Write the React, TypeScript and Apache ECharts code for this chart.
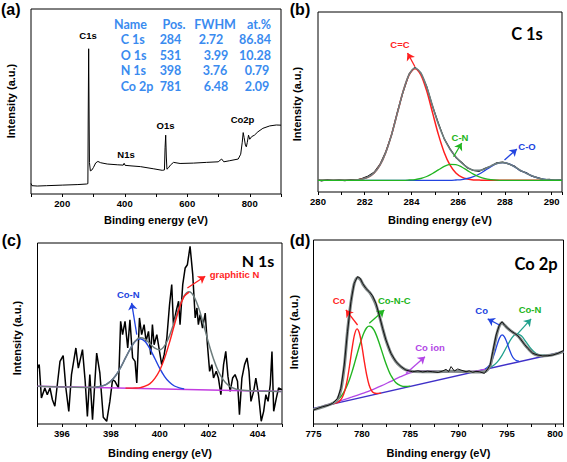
import React, { useEffect, useRef } from "react";
import * as echarts from "echarts";

// ---------- (a) survey ----------
const surveyE = [100, 103, 120, 150, 200, 250, 278, 282, 283, 284.5, 286, 287, 290, 295, 300, 307, 314, 323, 344, 376, 395, 398, 401, 420, 450, 493, 520, 527, 529, 531, 533, 535, 540, 546, 556, 577, 620, 662, 699, 710, 717, 736, 763, 771, 776, 779, 782, 786, 789, 792, 796, 800, 806, 815, 826, 842, 864, 885, 900];
const surveyI = [5.7, 4.5, 4.3, 4.5, 4.8, 5.1, 5.4, 5.6, 40, 78.5, 40, 17, 12.5, 13, 14.4, 16.8, 17.6, 16.9, 16.2, 15.8, 15.6, 16.6, 15.5, 15.2, 14.8, 13.6, 12.8, 13, 25, 31.8, 20, 13.4, 14.2, 15.6, 17.1, 16.5, 16.7, 17.1, 17.4, 18.9, 17.4, 18.0, 18.9, 21.5, 28, 33.2, 30.5, 26.5, 25.5, 27.8, 31.8, 29.6, 31, 31.8, 33.6, 35.5, 36.8, 37.3, 37.2];
const tableHead = ["Name", "Pos.", "FWHM", "at.%"];
const tableNames = ["C 1s", "O 1s", "N 1s", "Co 2p"];
const tablePos = ["284", "531", "398", "781"];
const tableFwhm = ["2.72", "3.99", "3.76", "6.48"];
const tableAt = ["86.84", "10.28", "0.79", "2.09"];

// ---------- (b) C 1s ----------
const bE = [280, 280.15, 280.4, 280.65, 280.9, 281.15, 281.4, 281.65, 281.9, 282.15, 282.4, 282.65, 282.9, 283.15, 283.4, 283.65, 283.9, 284.15, 284.4, 284.65, 284.9, 285.15, 285.4, 285.65, 285.9, 286.15, 286.4, 286.65, 286.9, 287.15, 287.4, 287.65, 287.9, 288.15, 288.4, 288.65, 288.9, 289.15, 289.4, 289.65, 289.9, 290.15, 290.4, 290.44];
const bData = [6.8, 6.2, 6.9, 6.4, 6.7, 6.3, 6.9, 6.6, 7.6, 8.9, 10.9, 15.3, 22.4, 31.8, 44.6, 56.0, 65.6, 69.2, 66.0, 58.6, 47.6, 38.2, 29.5, 24.0, 19.2, 16.4, 13.3, 12.0, 11.5, 13.2, 14.3, 16.2, 16.6, 15.6, 14.4, 11.8, 10.8, 8.8, 8.0, 6.9, 7.0, 6.4, 6.8, 6.5];
const bFit = [6.5, 6.5, 6.5, 6.5, 6.5, 6.5, 6.5, 6.7, 7.2, 8.3, 10.6, 14.9, 22.0, 32.0, 44.1, 56.2, 65.3, 68.9, 66.1, 58.3, 47.9, 37.8, 29.7, 23.7, 19.5, 16.1, 13.6, 12.1, 12.0, 12.9, 14.5, 15.9, 16.3, 15.7, 14.1, 12.1, 10.5, 9.0, 7.8, 7.1, 6.7, 6.6, 6.6, 6.6];
const bCC = [6.5, 6.5, 6.5, 6.5, 6.5, 6.5, 6.5, 6.7, 7.2, 8.3, 10.6, 14.9, 22.0, 32.0, 44.1, 56.2, 65.1, 68.5, 65.1, 56.2, 44.1, 32.0, 22.0, 14.9, 10.6, 8.3, 7.2, 6.7, 6.6, 6.5, 6.5, 6.5, 6.5, 6.5, 6.5, 6.5, 6.5, 6.5, 6.5, 6.5, 6.5, 6.5, 6.5, 6.5];
const bCN = [6.5, 6.5, 6.5, 6.5, 6.5, 6.5, 6.5, 6.5, 6.5, 6.5, 6.5, 6.5, 6.5, 6.5, 6.5, 6.5, 6.66, 6.9, 7.5, 8.6, 10.3, 12.3, 14.2, 15.3, 15.2, 13.9, 11.9, 9.9, 8.4, 7.4, 6.9, 6.6, 6.5, 6.5, 6.5, 6.5, 6.5, 6.5, 6.5, 6.5, 6.5, 6.5, 6.5, 6.5];
const bCO = [6.5, 6.5, 6.5, 6.5, 6.5, 6.5, 6.5, 6.5, 6.5, 6.5, 6.5, 6.5, 6.5, 6.5, 6.5, 6.5, 6.5, 6.5, 6.5, 6.5, 6.5, 6.5, 6.5, 6.5, 6.67, 6.9, 7.5, 8.5, 10.0, 12.0, 14.1, 15.7, 16.3, 15.7, 14.1, 12.0, 10.5, 9.0, 7.8, 7.1, 6.7, 6.6, 6.6, 6.6];

// ---------- (c) N 1s ----------
const cE = [395.00, 395.07, 395.16, 395.30, 395.40, 395.51, 395.61, 395.71, 395.81, 395.92, 396.05, 396.16, 396.28, 396.39, 396.57, 396.67, 396.84, 396.95, 397.04, 397.14, 397.25, 397.42, 397.55, 397.69, 397.83, 397.96, 398.07, 398.17, 398.31, 398.40, 398.48, 398.58, 398.69, 398.78, 398.89, 398.99, 399.06, 399.17, 399.26, 399.36, 399.44, 399.54, 399.63, 399.70, 399.77, 399.88, 399.99, 400.08, 400.18, 400.29, 400.40, 400.49, 400.56, 400.67, 400.77, 400.83, 400.94, 401.04, 401.13, 401.24, 401.35, 401.45, 401.52, 401.58, 401.65, 401.75, 401.86, 401.95, 402.04, 402.13, 402.20, 402.31, 402.40, 402.50, 402.61, 402.70, 402.79, 402.88, 402.98, 403.08, 403.18, 403.26, 403.36, 403.47, 403.57, 403.65, 403.73, 403.84, 403.93, 404.04, 404.15, 404.25, 404.34, 404.43, 404.52, 404.59, 404.66, 404.77, 404.86, 405.00];
const cData = [30.9, 32.8, 14.4, 19.9, 16.2, 19.9, 13.4, 9.8, 21.7, 34.6, 37.8, 19.9, 7.0, 27.3, 42.0, 30.9, 41.1, 23.6, 4.2, 27.3, 2.4, 39.2, 28.2, 3.7, 1.5, 12.5, 24.5, 23.6, 19.9, 56.7, 49.4, 56.7, 42.0, 57.6, 36.5, 34.6, 22.7, 58.6, 49.4, 54.9, 45.7, 51.2, 38.3, 54.9, 43.8, 49.4, 40.1, 32.8, 38.3, 47.5, 65.9, 77.0, 54.9, 62.2, 67.8, 54.9, 77.0, 86.2, 88.0, 98.2, 82.5, 58.6, 64.1, 54.9, 60.4, 53.0, 61.3, 43.8, 29.1, 32.8, 25.4, 29.1, 25.4, 16.2, 32.8, 40.1, 26.3, 18.0, 25.4, 27.3, 23.6, 5.2, 25.4, 32.8, 36.5, 29.1, 12.5, 18.0, 25.4, 16.2, 1.5, 7.0, 16.2, 12.5, 21.7, 40.1, 7.0, 14.4, 19.9, 19.0];
const cFitE = [395, 396, 397, 397.4, 397.6, 397.8, 398, 398.2, 398.4, 398.6, 398.8, 399, 399.2, 399.4, 399.6, 399.8, 400, 400.2, 400.4, 400.6, 400.8, 401, 401.2, 401.4, 401.6, 401.8, 402, 402.2, 402.4, 402.6, 402.8, 403, 403.2, 403.4, 404, 405];
const cFit = [20.8, 20.5, 20.2, 20.4, 20.9, 21.8, 23.7, 26.8, 31.2, 36.5, 41.7, 45.9, 47.6, 46.9, 44.3, 41.9, 41.0, 43.3, 48.8, 56.6, 64.8, 70.8, 73.0, 70.4, 63.8, 54.5, 44.6, 35.9, 29.0, 24.4, 21.4, 19.9, 19.0, 18.7, 18.3, 18.0];
const cCoNE = [397.4, 397.6, 397.8, 398, 398.2, 398.4, 398.6, 398.8, 399, 399.2, 399.4, 399.6, 399.8, 400, 400.2, 400.4, 400.6, 400.8, 401];
const cCoN = [20.4, 20.9, 21.8, 23.7, 26.8, 31.2, 36.5, 41.7, 45.7, 47.1, 45.6, 41.5, 36.2, 30.7, 26.2, 23.0, 21.0, 20.0, 19.4];
const cGraphE = [398.6, 398.8, 399, 399.2, 399.4, 399.6, 399.8, 400, 400.2, 400.4, 400.6, 400.8, 401, 401.2];
const cGraph = [19.8, 19.8, 19.9, 20.1, 20.9, 22.3, 25.2, 29.7, 36.4, 45.1, 54.8, 64.0, 70.5, 72.9];
const cBaseE = [395, 405];
const cBase = [20.8, 18.0];

// ---------- (d) Co 2p ----------
const dE = [775.0, 775.5, 775.93, 776.5, 776.97, 777.49, 777.83, 778.18, 778.52, 778.87, 779.21, 779.56, 779.83, 780.08, 780.42, 780.77, 781.11, 781.46, 781.8, 782.15, 782.49, 783.01, 783.53, 784.05, 784.56, 785.25, 785.8, 786.29, 786.8, 787.33, 787.9, 788.36, 788.71, 788.98, 789.23, 789.57, 789.92, 790.26, 790.78, 791.1, 791.47, 791.8, 792.16, 792.68, 793.02, 793.27, 793.54, 793.89, 794.23, 794.51, 794.75, 795.1, 795.44, 795.79, 796.13, 796.48, 796.82, 797.17, 797.69, 798.2, 798.72, 799.24, 799.76, 800.28, 800.79];
const dData = [7.6, 8.6, 9.4, 10.1, 11.2, 13.9, 19.4, 32.1, 50.2, 66.5, 76.4, 80.1, 79.2, 76.4, 73.7, 71.9, 69.7, 65.6, 59.2, 52.0, 45.7, 38.4, 33.9, 31.2, 29.3, 28.4, 28.9, 28.3, 28.7, 28.4, 28.0, 28.8, 29.7, 28.4, 31.2, 28.8, 29.9, 29.3, 28.4, 28.9, 28.1, 28.6, 28.4, 27.5, 29.9, 32.1, 39.3, 48.4, 53.8, 55.6, 53.8, 52.0, 50.5, 49.3, 48.0, 45.7, 43.3, 41.1, 38.4, 37.5, 37.0, 37.1, 37.5, 38.4, 39.7];
const dFitE = [775, 776, 777, 777.5, 777.85, 778.2, 778.5, 778.87, 779.2, 779.55, 779.85, 780.1, 780.45, 780.8, 781.1, 781.45, 781.8, 782.15, 782.5, 783, 783.5, 784, 784.5, 785.25, 786.3, 787.3, 788.4, 789.2, 790.3, 791.5, 792.2, 792.7, 793, 793.3, 793.55, 793.9, 794.2, 794.5, 794.75, 795.1, 795.45, 795.8, 796.15, 796.5, 796.8, 797.2, 797.7, 798.2, 798.7, 799.25, 799.75, 800.3, 800.86];
const dFit = [7.8, 9.4, 11.3, 13.5, 19, 32, 49.5, 66, 76, 79.5, 78.5, 76, 73.5, 71.5, 69, 65, 59, 52, 45.5, 38.5, 34, 31.3, 29.6, 28.6, 28.4, 28.4, 28.5, 28.7, 28.6, 28.3, 28.3, 28.4, 29.5, 32, 38.5, 47.5, 53, 55, 53.8, 52, 50.5, 49.2, 47.8, 45.6, 43.4, 41, 38.5, 37.4, 37.0, 37.2, 37.6, 38.4, 39.5];
const dCoE = [777, 777.5, 777.75, 778, 778.25, 778.5, 778.75, 779, 779.25, 779.5, 779.75, 780, 780.25, 780.5, 780.75, 781, 781.25, 781.5, 782];
const dCo = [10.9, 11.8, 12.8, 14.7, 18.3, 24.3, 32.4, 41.4, 48.7, 51.7, 49.3, 42.6, 34.2, 26.7, 21.2, 18.2, 16.9, 16.6, 16.8];
const dCoNCE = [776.75, 777, 777.25, 777.5, 777.75, 778, 778.25, 778.5, 778.75, 779, 779.25, 779.5, 779.75, 780, 780.25, 780.5, 780.75, 781, 781.25, 781.5, 781.75, 782, 782.25, 782.5, 782.75, 783, 783.5, 784, 784.5, 785];
const dCoNC = [10.9, 11.5, 12.2, 13.2, 14.4, 16.1, 18.4, 21.2, 24.6, 28.6, 33.1, 37.8, 42.4, 46.6, 50.0, 52.3, 53.2, 52.8, 51.1, 48.3, 44.7, 40.7, 36.6, 32.7, 29.3, 26.5, 22.6, 20.9, 20.4, 20.6];
const dIonE = [776, 777, 778, 779, 780, 781, 782, 783, 784, 785, 786, 787, 788, 789, 790, 791, 792, 793];
const dIon = [9.8, 11.4, 13.0, 14.7, 16.5, 18.4, 20.7, 23.2, 25.7, 27.8, 28.8, 28.8, 28.6, 28.5, 28.5, 28.5, 29.0, 29.9];
const dCo2E = [792.75, 793, 793.25, 793.5, 793.75, 794, 794.25, 794.5, 794.75, 795, 795.25, 795.5, 795.75, 796, 796.25];
const dCo2 = [29.9, 30.8, 32.4, 35.0, 38.8, 43.2, 46.8, 48.4, 47.4, 44.4, 40.6, 37.4, 35.4, 34.4, 34.1];
const dCoNE = [793, 793.5, 794, 794.5, 795, 795.5, 796, 796.5, 797, 797.5, 798, 798.5, 799];
const dCoN = [30.2, 31.4, 33.6, 37.3, 42.1, 46.7, 49.0, 47.9, 44.5, 40.9, 38.4, 37.4, 37.4];
const dBaseE = [775, 800.86];
const dBase = [8.5, 39.3];

const zip = (xs: number[], ys: number[]) => xs.map((x, i) => [x, ys[i]]);

const RED = "#ff1f1f";
const GREEN = "#22b522";
const BLUE = "#2244e0";
const PURPLE = "#b347e6";
const GRAY = "#6d7d7d";
const TABLE = "#3a8bef";
const ARIAL = '"Liberation Sans", Arial, sans-serif';

function line(gi: number, data: number[][], color: string, width: number, smooth: boolean, z: number, extra: any = {}) {
  return {
    type: "line",
    xAxisIndex: gi,
    yAxisIndex: gi,
    data,
    showSymbol: false,
    symbol: "none",
    smooth: smooth ? 0.3 : false,
    lineStyle: { color, width },
    itemStyle: { color },
    z,
    silent: true,
    ...extra,
  };
}

function arrows(color: string, pairs: number[][][]) {
  return {
    markLine: {
      silent: true,
      symbol: ["none", "arrow"],
      symbolSize: 7,
      label: { show: false },
      lineStyle: { color, width: 1.3, type: "solid" },
      emphasis: { disabled: true },
      data: pairs.map((p) => [{ coord: p[0] }, { coord: p[1] }]),
    },
  };
}

function txt(text: string, x: number, y: number, font: string, fill: string, align = "center", rotation = 0) {
  return {
    type: "text",
    x,
    y,
    rotation,
    silent: true,
    style: { text, x: 0, y: 0, font, fill, align, verticalAlign: "middle", textAlign: align, textVerticalAlign: "middle" },
  };
}

export default function App() {
  const ref = useRef<HTMLDivElement>(null);
  useEffect(() => {
    document.body.style.margin = "0";
    const chart = echarts.init(ref.current!, null, { renderer: "svg" });

    const grids = [
      { left: 31, top: 9, width: 250, height: 185 },
      { left: 318, top: 12, width: 244, height: 180 },
      { left: 37.5, top: 243, width: 244.5, height: 181 },
      { left: 313.5, top: 240, width: 250, height: 184 },
    ].map((g) => ({ ...g, show: true, borderColor: "#000", borderWidth: 1, backgroundColor: "transparent" }));

    const xBase = (min: number, max: number, interval: number, fmt: (v: number) => string) => ({
      type: "value",
      min,
      max,
      interval,
      axisLine: { show: false },
      splitLine: { show: false },
      axisTick: { show: true, inside: false, length: 3, lineStyle: { color: "#000", width: 1 } },
      axisLabel: { show: true, margin: 4, color: "#000", fontSize: 9.5, fontWeight: "bold", fontFamily: ARIAL, formatter: fmt, showMinLabel: true, showMaxLabel: true },
    });

    const xAxis = [
      { ...xBase(100, 900, 100, (v) => (v % 200 === 0 && v > 100 && v < 900 ? String(v) : "")), gridIndex: 0 },
      { ...xBase(280, 290.44, 1, (v) => (Number.isInteger(v) && v % 2 === 0 ? String(v) : "")), gridIndex: 1 },
      { ...xBase(395, 405, 1, (v) => (Number.isInteger(v) && v % 2 === 0 && v > 395 && v < 405 ? String(v) : "")), gridIndex: 2 },
      { ...xBase(775, 800.86, 2.5, (v) => (v % 5 === 0 ? String(v) : "")), gridIndex: 3 },
    ];
    const yAxis = [0, 1, 2, 3].map((i) => ({ type: "value", gridIndex: i, min: 0, max: 100, show: false }));

    const series: any[] = [
      // (a)
      line(0, zip(surveyE, surveyI), "#000", 1, false, 2),
      // (b)
      line(1, zip(bE, bData), "#111", 1.2, false, 2),
      line(1, zip(bE, bCC), RED, 1.5, true, 3, arrows(RED, [[[284.15, 69.6], [283.83, 77.2]]])),
      line(1, zip(bE, bCO), BLUE, 1.3, true, 3, arrows(BLUE, [[[287.98, 17.8], [288.51, 23.9]]])),
      line(1, zip(bE, bFit), GRAY, 1.6, true, 4),
      line(1, zip(bE, bCN), GREEN, 1.3, true, 5, arrows(GREEN, [[[285.8, 19.6], [286.15, 27.2]]])),
      // (c)
      line(2, zip(cE, cData), "#000", 1.5, false, 2),
      line(2, zip(cBaseE, cBase), "#c23be0", 1.5, false, 3),
      line(2, zip(cCoNE, cCoN), BLUE, 1.4, true, 3, arrows(BLUE, [[[399.06, 49.4], [398.85, 66.9]]])),
      line(2, zip(cFitE, cFit), GRAY, 1.5, true, 4),
      line(2, zip(cGraphE, cGraph), RED, 1.4, true, 5, arrows(RED, [[[401.13, 75.1], [401.86, 81.6]]])),
      // (d)
      line(3, zip(dBaseE, dBase), "#3f30c8", 1.5, false, 2),
      line(3, zip(dIonE, dIon), PURPLE, 1.3, true, 3, arrows(PURPLE, [[[784.56, 27.5], [786.53, 36.6]]])),
      line(3, zip(dCoNCE, dCoNC), GREEN, 1.4, true, 3, arrows(GREEN, [[[780.77, 54.7], [782.32, 62.0]]])),
      line(3, zip(dCoE, dCo), RED, 1.4, true, 3, arrows(RED, [[[779.56, 53.8], [778.35, 62.0]]])),
      line(3, zip(dCoNE, dCoN), "#1fa08c", 1.3, true, 3, arrows("#1fa08c", [[[796.06, 48.7], [797.51, 57.1]]])),
      line(3, zip(dCo2E, dCo2), BLUE, 1.3, true, 3, arrows(BLUE, [[[794.23, 53.8], [793.02, 57.1]]])),
      line(3, zip(dFitE, dFit), "#808888", 3, true, 4),
      line(3, zip(dE, dData), "#111", 1, false, 5),
    ];

    const bold = (s: number) => `bold ${s}px ${ARIAL}`;
    const lato = (s: number) => `bold ${s}px Lato, "Open Sans", sans-serif`;
    const rowsY = [39.3, 55, 70.5, 86];
    const fwhmX = [211, 216, 215, 216];
    const atX = [255, 255, 257, 257];

    const graphics: any[] = [
      txt("(a)", 10.8, 9.5, bold(16), "#000"),
      txt("(b)", 300, 9.5, bold(16), "#000"),
      txt("(c)", 11.5, 240.5, bold(16), "#000"),
      txt("(d)", 300, 240.5, bold(16), "#000"),
      txt("Binding energy (eV)", 156, 220, bold(11), "#000"),
      txt("Binding energy (eV)", 440, 220, bold(11), "#000"),
      txt("Binding energy (eV)", 160, 453, bold(11), "#000"),
      txt("Binding energy (eV)", 438.5, 453, bold(11), "#000"),
      txt("Intensity (a.u.)", 10.8, 101, bold(11), "#000", "center", Math.PI / 2),
      txt("Intensity (a.u.)", 297, 104, bold(11), "#000", "center", Math.PI / 2),
      txt("Intensity (a.u.)", 16.5, 338, bold(11), "#000", "center", Math.PI / 2),
      txt("Intensity (a.u.)", 293.5, 332, bold(11), "#000", "center", Math.PI / 2),
      // survey peak labels
      txt("C1s", 88, 35, bold(9.5), "#000"),
      txt("N1s", 126, 154.5, bold(9.5), "#000"),
      txt("O1s", 165.5, 125.5, bold(9.5), "#000"),
      txt("Co2p", 242.5, 119.5, bold(9.5), "#000"),
      // table
      txt(tableHead[0], 130.5, 24, lato(12.5), TABLE),
      txt(tableHead[1], 174, 24, lato(12.5), TABLE),
      txt(tableHead[2], 215, 24, lato(12.5), TABLE),
      txt(tableHead[3], 259, 24, lato(12.5), TABLE),
      ...tableNames.map((t, i) => txt(t, 120.7, rowsY[i], lato(12.5), TABLE, "left")),
      ...tablePos.map((t, i) => txt(t, 170.5, rowsY[i], lato(12.5), TABLE)),
      ...tableFwhm.map((t, i) => txt(t, fwhmX[i], rowsY[i], lato(12.5), TABLE)),
      ...tableAt.map((t, i) => txt(t, atX[i], rowsY[i], lato(12.5), TABLE)),
      // panel titles
      txt("C 1s", 527, 34, lato(16.5), "#000"),
      txt("N 1s", 258, 260.5, lato(16), "#000"),
      txt("Co 2p", 536, 263.5, lato(16.5), "#000"),
      // component labels
      txt("C=C", 400, 44, bold(9.5), RED),
      txt("C-N", 460, 137, bold(9.5), GREEN),
      txt("C-O", 527, 146, bold(9.5), BLUE),
      txt("graphitic N", 234.5, 274, bold(9.5), RED),
      txt("Co-N", 128.3, 294, bold(9.5), BLUE),
      txt("Co", 339, 300.7, bold(9.5), RED),
      txt("Co-N-C", 394.3, 300, bold(9.5), GREEN),
      txt("Co ion", 430, 347.3, bold(9.5), PURPLE),
      txt("Co", 481.7, 310, bold(9.5), BLUE),
      txt("Co-N", 530, 309.3, bold(9.5), GREEN),
    ];

    chart.setOption({
      animation: false,
      backgroundColor: "#fff",
      grid: grids,
      xAxis,
      yAxis,
      series,
      graphic: { elements: graphics },
    });
    return () => chart.dispose();
  }, []);
  return <div ref={ref} style={{ width: 567, height: 462 }} />;
}
